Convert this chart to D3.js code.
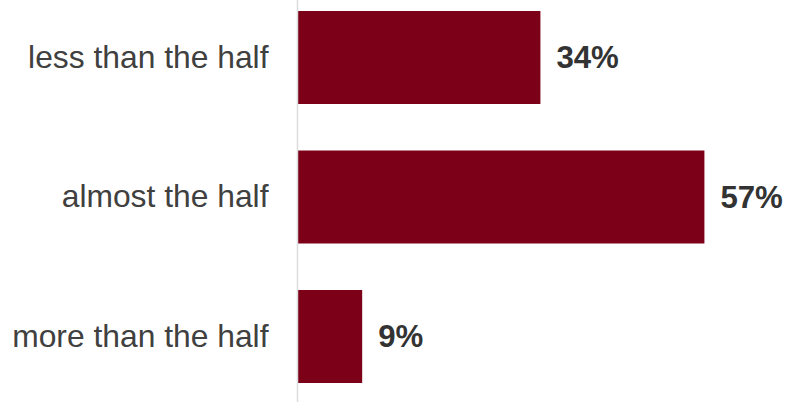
<!DOCTYPE html>
<html>
<head>
<meta charset="utf-8">
<script src="https://cdn.jsdelivr.net/npm/d3@7"></script>
<style>
  html, body { margin: 0; padding: 0; background: #fff; }
  svg { display: block; }
  text { font-family: "Liberation Sans", Arial, sans-serif; }
</style>
</head>
<body>
<svg id="chart" width="792" height="402"></svg>
<script>
const categories = ["less than the half", "almost the half", "more than the half"];
const values = [34, 57, 9];
const valueLabels = ["34%", "57%", "9%"];

const width = 792, height = 402;
const axisX = 297.5;
const svg = d3.select("#chart");

const x = d3.scaleLinear().domain([0, 100]).range([axisX + 0.5, axisX + 0.5 + 713]);
const y = d3.scaleBand().domain(categories).range([11, 383]).paddingInner(1 / 3).paddingOuter(0);

// bars
svg.append("g").selectAll("rect")
  .data(values)
  .join("rect")
  .attr("x", x(0))
  .attr("y", (d, i) => y(categories[i]))
  .attr("width", d => x(d) - x(0))
  .attr("height", y.bandwidth())
  .attr("fill", "#7d0019");

// baseline axis
svg.append("line")
  .attr("x1", axisX).attr("x2", axisX)
  .attr("y1", 0).attr("y2", height)
  .attr("stroke", "#dcdcdc")
  .attr("stroke-width", 1.5);

// category labels
const yAxis = d3.axisLeft(y).tickSize(0).tickPadding(29);
const ga = svg.append("g").attr("transform", `translate(${axisX},0)`).call(yAxis);
ga.select(".domain").remove();
ga.selectAll("text")
  .attr("font-size", 31.8)
  .attr("fill", "#404040")
  .style("font-family", "'Liberation Sans', Arial, sans-serif");

// value labels
svg.append("g").selectAll("text")
  .data(values)
  .join("text")
  .attr("x", d => x(d) + 16)
  .attr("y", (d, i) => y(categories[i]) + y.bandwidth() / 2)
  .attr("dy", "0.35em")
  .attr("font-size", 31.2)
  .attr("font-weight", "bold")
  .attr("fill", "#333333")
  .text((d, i) => valueLabels[i]);
</script>
</body>
</html>
